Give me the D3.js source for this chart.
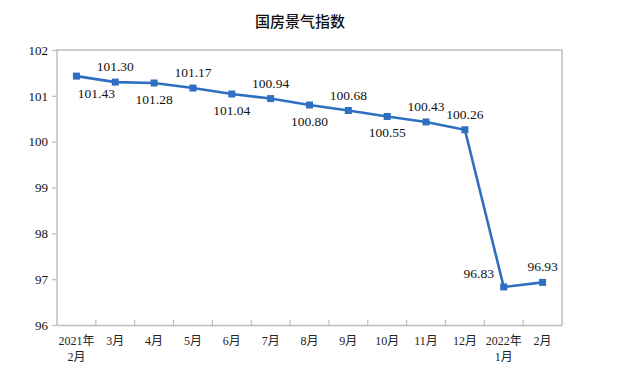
<!DOCTYPE html>
<html><head><meta charset="utf-8">
<script src="https://cdn.jsdelivr.net/npm/d3@7"></script>
<style>body{margin:0;background:#fff}</style>
</head><body>
<svg id="c" width="622" height="374"></svg>
<script>
const categories = [["2021年","2月"],["3月"],["4月"],["5月"],["6月"],["7月"],["8月"],["9月"],["10月"],["11月"],["12月"],["2022年","1月"],["2月"]];
const values = [101.43,101.30,101.28,101.17,101.04,100.94,100.80,100.68,100.55,100.43,100.26,96.83,96.93];
const yTicks = [96,97,98,99,100,101,102];
const labelPos = ["belowR","above","below","above","below","above","below","above","below","above","above","left","above"];

const svg = d3.select("#c");
const L = 57, R = 562, T = 50, B = 325;
const x = d3.scaleBand().domain(d3.range(values.length)).range([L, R]);
const y = d3.scaleLinear().domain([96, 102]).range([B, T]);
const serif = "Liberation Serif, Tinos, Times New Roman, DejaVu Serif, Noto Sans CJK SC, serif";

svg.append("text").attr("x", 300).attr("y", 27).attr("text-anchor","middle")
  .attr("font-family","Noto Sans CJK SC, sans-serif").attr("font-size",15).attr("font-weight","500")
  .attr("fill","#111").text("国房景气指数");

svg.append("path").attr("d", `M${L},${B}V${T}H${R}V${B}`).attr("fill","none").attr("stroke","#bdbdbd").attr("stroke-width",1.5);

const ya = svg.append("g").attr("transform",`translate(${L},0)`).call(d3.axisLeft(y).tickValues(yTicks).tickSize(5).tickPadding(4).tickFormat(d3.format("d")));
ya.select(".domain").remove();
ya.selectAll("line").attr("stroke","#bdbdbd").attr("stroke-width",1.2);
ya.selectAll("text").style("font-family",serif).style("font-size","13px").attr("fill","#111");

const xa = svg.append("g").attr("transform",`translate(0,${B})`)
  .call(d3.axisBottom(x).tickSize(0).tickFormat(""));
xa.select(".domain").attr("stroke","#bdbdbd").attr("stroke-width",1.5);
x.domain().slice(1).forEach(i => {
  xa.append("line").attr("x1", x(i)).attr("x2", x(i)).attr("y1", 0).attr("y2", -5)
    .attr("stroke","#bdbdbd").attr("stroke-width",1.2);
});
categories.forEach((c, i) => {
  const t = svg.append("text").attr("text-anchor","middle").style("font-family",serif)
    .style("font-size","12px").attr("fill","#222");
  c.forEach((s, j) => t.append("tspan").attr("x", x(i) + x.bandwidth()/2).attr("y", 345 + j*16).text(s));
});

const cx = i => x(i) + x.bandwidth()/2;
svg.append("path").datum(values)
  .attr("d", d3.line().x((d,i)=>cx(i)).y(d=>y(d)))
  .attr("fill","none").attr("stroke","#2f6fc1").attr("stroke-width",2.6);
svg.selectAll("rect.m").data(values).join("rect").attr("class","m")
  .attr("x",(d,i)=>cx(i)-3.5).attr("y",d=>y(d)-3.5).attr("width",7).attr("height",7).attr("fill","#2f6fc1");

values.forEach((v, i) => {
  const p = labelPos[i];
  let lx = cx(i), ly = y(v);
  if (p === "above") ly -= 11;
  else if (p === "below") ly += 21;
  else if (p === "belowR") { lx += 20; ly += 22; }
  else if (p === "left") { lx -= 25; ly -= 9; }
  svg.append("text").attr("x", lx).attr("y", ly).attr("text-anchor","middle")
    .style("font-family",serif).style("font-size","13.5px").attr("fill","#111")
    .text(v.toFixed(2));
});
</script>
</body></html>
